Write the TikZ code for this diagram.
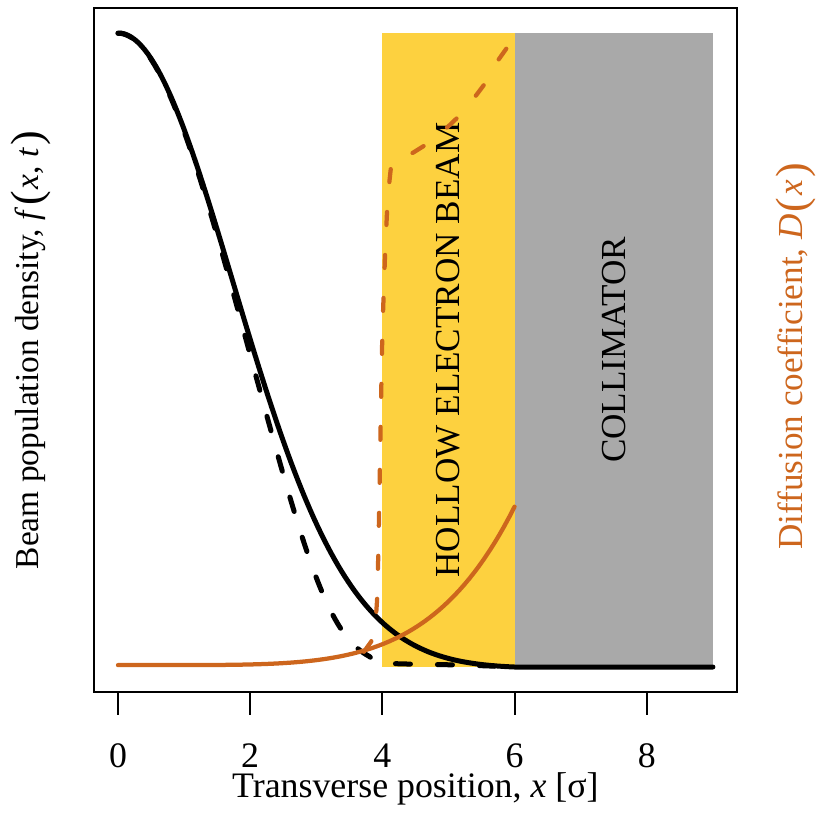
\documentclass[tikz,border=0pt]{standalone}
\usepackage{fontspec}
\setmainfont{Liberation Serif}
\definecolor{hebyellow}{HTML}{FDD13F}
\definecolor{collgray}{HTML}{A9A9A9}
\definecolor{diffcol}{HTML}{CD661D}
\newcommand{\bigparen}[1]{\hspace{0.06em}\raisebox{-0.1em}{\fontsize{25}{25}\selectfont #1}\hspace{0.06em}}

\begin{document}
\begin{tikzpicture}[x=1.322cm, y=12.68cm,
    fcurve/.style={line width=0.1cm, line cap=round, line join=round},
    fdashed/.style={fcurve, dash pattern=on 0.3cm off 0.54cm},
    dcurve/.style={diffcol, line width=0.085cm, line cap=round, line join=round},
    ddashed/.style={dcurve, dash pattern=on 0.26cm off 0.6cm},
    ticklabel/.style={anchor=base, inner sep=0pt, font=\fontsize{20.4}{24}\selectfont},
    boxlabel/.style={rotate=90, font=\fontsize{20}{24}\selectfont}]
      \useasboundingbox (-1.7852,-0.2571) rectangle (10.7716,1.0521);

      % regions
      \fill[hebyellow] (4,0) rectangle (6,1);
      \fill[collgray] (6,0) rectangle (9,1);
      \node[boxlabel] (heb) at (5,0.5) {HOLLOW ELECTRON BEAM};
      \node[boxlabel] (coll) at (7.5,0.5) {COLLIMATOR};

      % frame and axis
      \draw[line width=0.04cm] (-0.36,-0.04) rectangle (9.36,1.04);
      \foreach \t in {0,2,...,8} {
        \draw[line width=0.04cm] (\t,-0.04) -- (\t,-0.0757);
        \node[ticklabel] (lab\t) at (\t,-0.159) {\t};
      }
      \node[ticklabel] (xlab) at (4.5,-0.2065)
        {Transverse position, \textit{x} [σ]};
      \node[ticklabel, rotate=90, font=\fontsize{19}{22}\selectfont] (flab)
        at (-1.21,0.5) {Beam population density,
        \textit{f}\bigparen{(}\textit{x}, \textit{t}\bigparen{)}};
      \node[ticklabel, rotate=90, text=diffcol, font=\fontsize{20}{24}\selectfont]
        (dlab) at (10.363,0.49) {Diffusion coefficient,
        \textit{D}\bigparen{(}\textit{x}\bigparen{)}};

      % beam population density
      \draw[fcurve] plot[domain=0:6, samples=120]
        (\x,{exp(-0.165*\x*\x)*(1-(\x/6)^10)}) -- (9,0);
      \draw[fdashed] plot[domain=0:3.8, samples=90]
        (\x,{exp(-0.165*\x*\x)/(1+exp(2.5*(\x-3.2)))})
        -- plot[smooth, tension=0.6] coordinates {(3.92,0.007) (4.27,0.005)
        (5.22,0.003) (6,0)};

      % diffusion coefficient
      \draw[dcurve] plot[domain=0:6, samples=80] (\x,{0.003+0.25*(\x/6)^5});
      \draw[ddashed] (3.72,0.024) -- (3.83,0.04) -- (3.89,0.06)
        -- (3.92,0.106) -- (3.94,0.185) -- (3.96,0.3) -- (3.98,0.42)
        -- (4,0.53) -- (4.04,0.65) -- (4.08,0.74) -- (4.13,0.789)
        -- (4.2,0.803) -- (4.46,0.811) -- (4.69,0.826) -- (4.99,0.852)
        -- (5.16,0.869) -- (5.42,0.902) -- (5.55,0.92) -- (5.75,0.957)
        -- (5.9,0.979) -- (6,1);
    \end{tikzpicture}
\end{document}
